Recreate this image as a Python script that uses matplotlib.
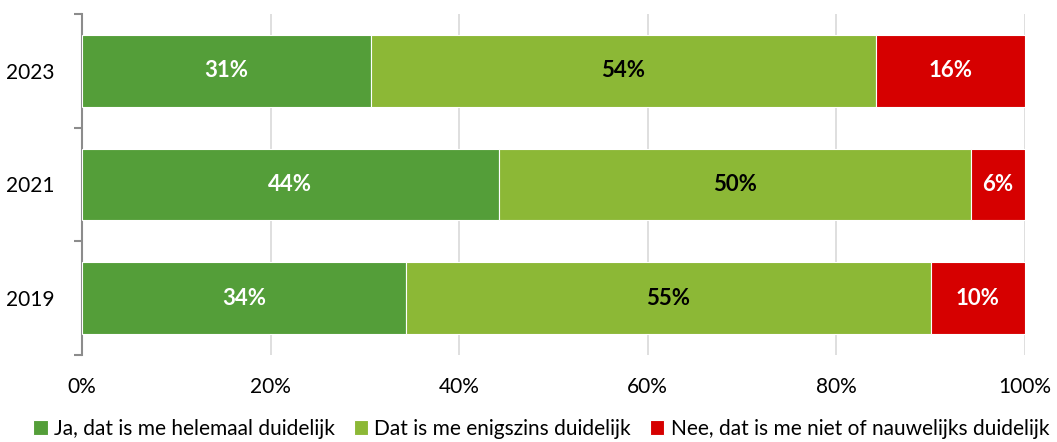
#!/usr/bin/env python3
'''Stacked horizontal bar chart: duidelijkheid per jaar.'''

import matplotlib.pyplot as plt
from matplotlib.ticker import FuncFormatter, FixedLocator

plt.rcParams['font.family'] = ['Lato', 'DejaVu Sans']

years = ['2019', '2021', '2023']
helemaal = [34.4, 44.2, 30.6]
enigszins = [55.6, 50.1, 53.6]
niet = [10.0, 5.7, 15.8]
labels_helemaal = ['34%', '44%', '31%']
labels_enigszins = ['55%', '50%', '54%']
labels_niet = ['10%', '6%', '16%']

series_names = ['Ja, dat is me helemaal duidelijk',
                'Dat is me enigszins duidelijk',
                'Nee, dat is me niet of nauwelijks duidelijk']
colors = ['#549E39', '#8CB836', '#D60000']
text_colors = ['white', 'black', 'white']

fig = plt.figure(figsize=(10.57, 4.42), dpi=100)
ax = fig.add_axes([82 / 1057, 87 / 442, 943 / 1057, 341 / 442])

ypos = list(range(len(years)))
left = [0] * len(years)
for vals, labs, col, tcol, name in zip([helemaal, enigszins, niet],
                                       [labels_helemaal, labels_enigszins, labels_niet],
                                       colors, text_colors, series_names):
    bars = ax.barh(ypos, vals, left=left, height=0.63, color=col,
                   edgecolor='white', linewidth=0.8, label=name, zorder=3)
    for b, lab in zip(bars, labs):
        ax.text(b.get_x() + b.get_width() / 2, b.get_y() + b.get_height() / 2,
                lab, ha='center', va='center', color=tcol,
                fontsize=16, fontweight='bold', zorder=4)
    left = [l + v for l, v in zip(left, vals)]

ax.set_xlim(0, 100)
ax.set_ylim(-0.5, 2.5)
ax.set_xticks([0, 20, 40, 60, 80, 100])
ax.xaxis.set_major_formatter(FuncFormatter(lambda v, p: f'{v:.0f}%'))
ax.set_yticks(ypos)
ax.set_yticklabels(years)
ax.yaxis.set_minor_locator(FixedLocator([-0.5, 0.5, 1.5, 2.5]))

ax.grid(axis='x', color='#D9D9D9', linewidth=1.2, zorder=0)
for s in ['top', 'right', 'bottom']:
    ax.spines[s].set_visible(False)
ax.spines['left'].set_color('#8C8C8C')
ax.spines['left'].set_linewidth(1.5)

ax.tick_params(axis='x', length=0, pad=16, labelsize=15)
ax.tick_params(axis='y', which='major', length=0, pad=20, labelsize=15)
ax.tick_params(axis='y', which='minor', length=6, width=1.5, color='#8C8C8C')

fig.legend(loc='center', bbox_to_anchor=(0.512, 13 / 442), ncol=3,
           frameon=False, fontsize=15, handlelength=0.7, handleheight=0.7,
           handletextpad=0.3, columnspacing=0.9, borderaxespad=0,
           borderpad=0)

plt.savefig('out.png', dpi=100)
